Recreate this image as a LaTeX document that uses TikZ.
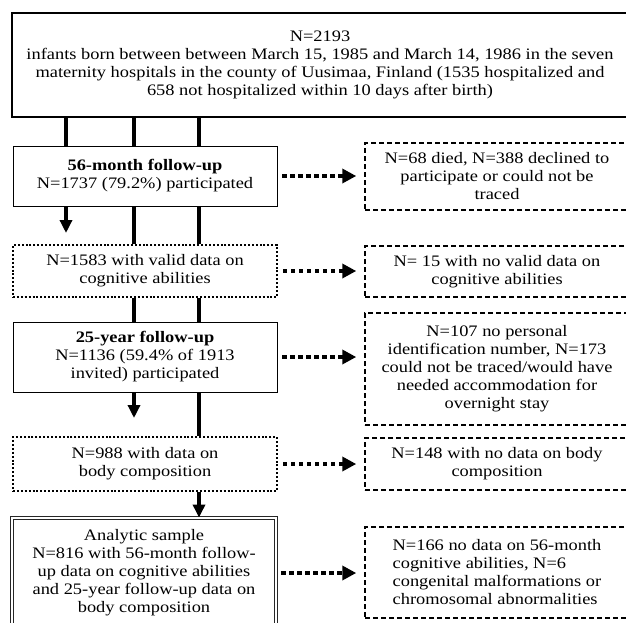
\documentclass[tikz,border=0pt]{standalone}
\usepackage{fontspec}
\setmainfont[FakeStretch=1.15]{Liberation Serif}
\usetikzlibrary{arrows.meta,positioning}

\begin{document}
\begin{tikzpicture}[x=1pt,y=-1pt,font=\fontsize{16}{18}\selectfont,
	topbox/.style={shape=rectangle,draw=black,line width=2.6pt,align=center,inner sep=0pt},
	solidbox/.style={shape=rectangle,draw=black,line width=0.9pt,align=center,inner sep=0pt,minimum width=264},
	dotbox/.style={shape=rectangle,draw=black,line width=2pt,dash pattern=on 2pt off 1.9pt,align=center,inner sep=0pt,minimum width=264},
	dashbox/.style={shape=rectangle,draw=black,line width=1.5pt,dash pattern=on 5pt off 3pt,align=center,inner sep=0pt,minimum width=264},
	dblbox/.style={shape=rectangle,draw=black!85,double,line width=0.9pt,double distance=1.6pt,align=center,inner sep=0pt,minimum width=264},
	trunk/.style={line width=3.6pt},
	trunkarrow/.style={line width=3.6pt,-{Triangle[length=13pt,width=12pt]}},
	dotarrow/.style={line width=4pt,dash pattern=on 4.4pt off 3.6pt,-{Triangle[length=14pt,width=14pt]},shorten <=5pt,shorten >=8pt}]
	\useasboundingbox (0,0) rectangle (626,622);
	\node[topbox,minimum width=616,minimum height=104](ALL) at (320,65) {N=2193\\infants born between between March 15, 1985 and March 14, 1986 in the seven\\maternity hospitals in the county of Uusimaa, Finland (1535 hospitalized and\\658 not hospitalized within 10 days after birth)};
	\node[solidbox,minimum height=60](FU56) at (145,176) {\textbf{56-month follow-up}\\N=1737 (79.2\%) participated};
	\node[dashbox,minimum height=67](LOST56) at (497,176.5) {N=68 died, N=388 declined to\\participate or could not be\\traced};
	\node[dotbox,minimum height=52](COG) at (145,271) {N=1583 with valid data on\\cognitive abilities};
	\node[dashbox,minimum height=51](NOCOG) at (497,271.5) {N= 15 with no valid data on\\cognitive abilities};
	\node[solidbox,minimum height=70](FU25) at (145,357) {\textbf{25-year follow-up}\\N=1136 (59.4\% of 1913\\invited) participated};
	\node[dashbox,minimum height=112](LOST25) at (497,369) {N=107 no personal\\identification number, N=173\\could not be traced/would have\\needed accommodation for\\overnight stay};
	\node[dotbox,minimum height=54](BC) at (145,464) {N=988 with data on\\body composition};
	\node[dashbox,minimum height=52](NOBC) at (497,464) {N=148 with no data on body\\composition};
	\node[dblbox,minimum height=110](AS) at (144,573) {Analytic sample\\N=816 with 56-month follow-\\up data on cognitive abilities\\and 25-year follow-up data on\\body composition};
	\node[dashbox,minimum height=91,align=left](EXCL) at (497,572.5) {N=166 no data on 56-month\\cognitive abilities, N=6\\congenital malformations or\\chromosomal abnormalities};
	\coordinate (C1) at (66,0);
	\coordinate (C2) at (134,0);
	\coordinate (C3) at (199,0);
	\coordinate (E1) at (66,233);
	\coordinate (E2) at (134,418);
	\path[trunk](ALL.south -| C1) edge node {} (FU56.north -| C1);
	\path[trunk](ALL.south -| C2) edge node {} (FU56.north -| C2);
	\path[trunk](ALL.south -| C3) edge node {} (FU56.north -| C3);
	\path[trunkarrow](FU56.south -| E1) edge node {} (E1);
	\path[trunk](FU56.south -| C2) edge node {} (COG.north -| C2)
		(COG.south -| C2) edge node {} (FU25.north -| C2);
	\path[trunkarrow](FU25.south -| E2) edge node {} (E2);
	\path[trunk](FU56.south -| C3) edge node {} (COG.north -| C3)
		(COG.south -| C3) edge node {} (FU25.north -| C3)
		(FU25.south -| C3) edge node {} (BC.north -| C3);
	\path[trunkarrow](BC.south -| C3) edge node {} (AS.north -| C3);
	\path[dotarrow](FU56.east) edge node {} (FU56.east -| LOST56.west);
	\path[dotarrow](COG.east) edge node {} (COG.east -| NOCOG.west);
	\path[dotarrow](FU25.east) edge node {} (FU25.east -| LOST25.west);
	\path[dotarrow](BC.east) edge node {} (BC.east -| NOBC.west);
	\path[dotarrow](AS.east) edge node {} (AS.east -| EXCL.west);
\end{tikzpicture}
\end{document}
